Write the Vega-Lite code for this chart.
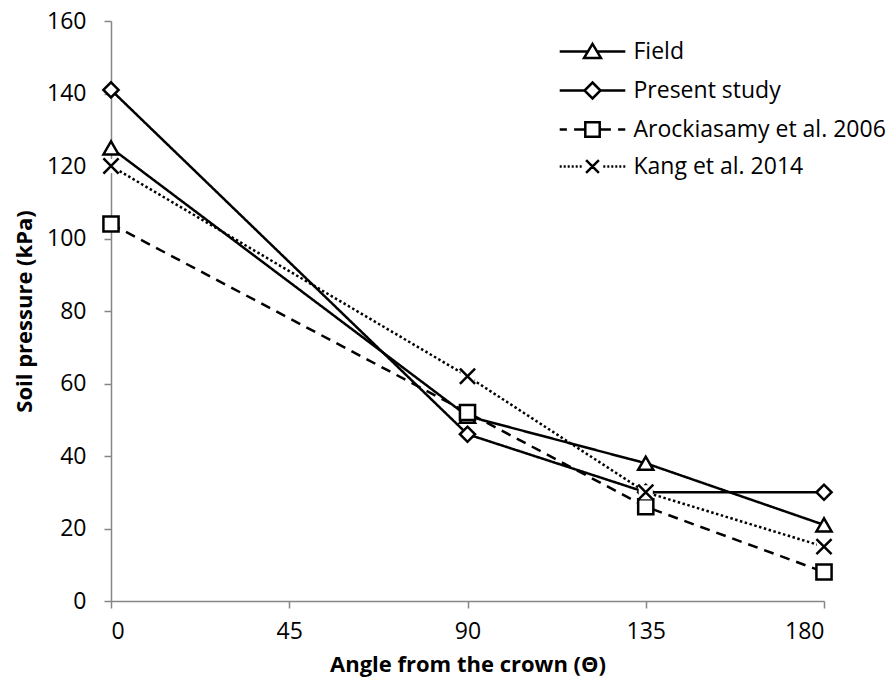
{
  "$schema": "https://vega.github.io/schema/vega-lite/v6.json",
  "width": 713,
  "height": 580,
  "autosize": "none",
  "padding": {"left": 111, "top": 21, "right": 72, "bottom": 94},
  "background": "white",
  "config": {
    "font": "Open Sans",
    "view": {"stroke": null},
    "axis": {
      "domainColor": "#868686",
      "tickColor": "#868686",
      "domainWidth": 1.5,
      "tickWidth": 1.5,
      "tickSize": 7,
      "grid": false,
      "labelColor": "black",
      "labelFont": "Open Sans",
      "labelFontSize": 23,
      "titleColor": "black",
      "titleFont": "Open Sans",
      "titleFontSize": 22,
      "titleFontWeight": "bold"
    }
  },
  "data": {
    "values": [
      {"series": "Field", "angle": 0, "pressure": 125},
      {"series": "Field", "angle": 90, "pressure": 51},
      {"series": "Field", "angle": 135, "pressure": 38},
      {"series": "Field", "angle": 180, "pressure": 21},
      {"series": "Present study", "angle": 0, "pressure": 141},
      {"series": "Present study", "angle": 90, "pressure": 46},
      {"series": "Present study", "angle": 135, "pressure": 30},
      {"series": "Present study", "angle": 180, "pressure": 30},
      {"series": "Arockiasamy et al. 2006", "angle": 0, "pressure": 104},
      {"series": "Arockiasamy et al. 2006", "angle": 90, "pressure": 52},
      {"series": "Arockiasamy et al. 2006", "angle": 135, "pressure": 26},
      {"series": "Arockiasamy et al. 2006", "angle": 180, "pressure": 8},
      {"series": "Kang et al. 2014", "angle": 0, "pressure": 120},
      {"series": "Kang et al. 2014", "angle": 90, "pressure": 62},
      {"series": "Kang et al. 2014", "angle": 135, "pressure": 30},
      {"series": "Kang et al. 2014", "angle": 180, "pressure": 15}
    ]
  },
  "encoding": {
    "x": {
      "field": "angle",
      "type": "quantitative",
      "scale": {"domain": [0, 180], "nice": false, "zero": false},
      "axis": {"values": [0, 45, 90, 135, 180], "title": "Angle from the crown (Θ)", "labelPadding": 12, "titlePadding": 11}
    },
    "y": {
      "field": "pressure",
      "type": "quantitative",
      "scale": {"domain": [0, 160], "nice": false},
      "axis": {"values": [0, 20, 40, 60, 80, 100, 120, 140, 160], "title": "Soil pressure (kPa)", "labelPadding": 18, "titlePadding": 10}
    }
  },
  "layer": [
    {
      "mark": {"type": "line", "color": "black", "strokeWidth": 2.5},
      "encoding": {
        "strokeDash": {
          "field": "series",
          "type": "nominal",
          "scale": {
            "domain": ["Field", "Present study", "Arockiasamy et al. 2006", "Kang et al. 2014"],
            "range": [[1, 0], [1, 0], [10, 7], [2.5, 2.5]]
          },
          "legend": null
        }
      }
    },
    {
      "transform": [{"filter": "datum.series !== 'Kang et al. 2014'"}],
      "mark": {"type": "point", "filled": true, "fill": "white", "stroke": "black", "strokeWidth": 2.5, "size": 230, "opacity": 1},
      "encoding": {
        "shape": {
          "field": "series",
          "type": "nominal",
          "scale": {
            "domain": ["Field", "Present study", "Arockiasamy et al. 2006"],
            "range": ["triangle-up", "diamond", "square"]
          },
          "legend": null
        }
      }
    },
    {
      "transform": [{"filter": "datum.series === 'Kang et al. 2014'"}],
      "mark": {"type": "point", "shape": "square", "filled": true, "fill": "white", "strokeWidth": 0, "size": 200, "opacity": 1}
    },
    {
      "transform": [{"filter": "datum.series === 'Kang et al. 2014'"}],
      "mark": {"type": "point", "shape": "M-1,-1L1,1M-1,1L1,-1", "filled": false, "stroke": "black", "strokeWidth": 2.5, "size": 230, "opacity": 1}
    },
    {
      "mark": {"type": "point", "filled": false, "color": "black", "opacity": 0, "size": 256},
      "encoding": {
        "shape": {
          "field": "series",
          "type": "nominal",
          "scale": {
            "domain": ["Field", "Present study", "Arockiasamy et al. 2006", "Kang et al. 2014"],
            "range": [
              "M-4.1,0H-0.6M0.6,0H4.1M-1.05,0.8L0,-0.95L1.05,0.8Z",
              "M-4.1,0H-1M1,0H4.1M0,-1L1,0L0,1L-1,0Z",
              "M-4.1,0H-3.2M-2.3,0H-0.9M0.9,0H2.3M3.2,0H4.1M-0.9,-0.9H0.9V0.9H-0.9Z",
              "M-4.1,0h0.25M-3.6,0h0.25M-3.1,0h0.25M-2.6,0h0.25M-2.1,0h0.25M-1.6,0h0.25M1.35,0h0.25M1.85,0h0.25M2.35,0h0.25M2.85,0h0.25M3.35,0h0.25M3.85,0h0.25M-0.8,-0.8L0.8,0.8M-0.8,0.8L0.8,-0.8"
            ]
          },
          "legend": {
            "title": null,
            "orient": "none",
            "legendX": 470,
            "legendY": 19,
            "padding": 0,
            "symbolSize": 256,
            "symbolOpacity": 1,
            "symbolStrokeWidth": 2.5,
            "symbolStrokeColor": "black",
            "symbolFillColor": "white",
            "labelFont": "Open Sans",
            "labelFontSize": 23,
            "labelColor": "black",
            "labelOffset": 29.5,
            "labelLimit": 400,
            "rowPadding": 13
          }
        }
      }
    }
  ],
  "resolve": {"scale": {"shape": "independent"}, "legend": {"shape": "independent"}}
}
